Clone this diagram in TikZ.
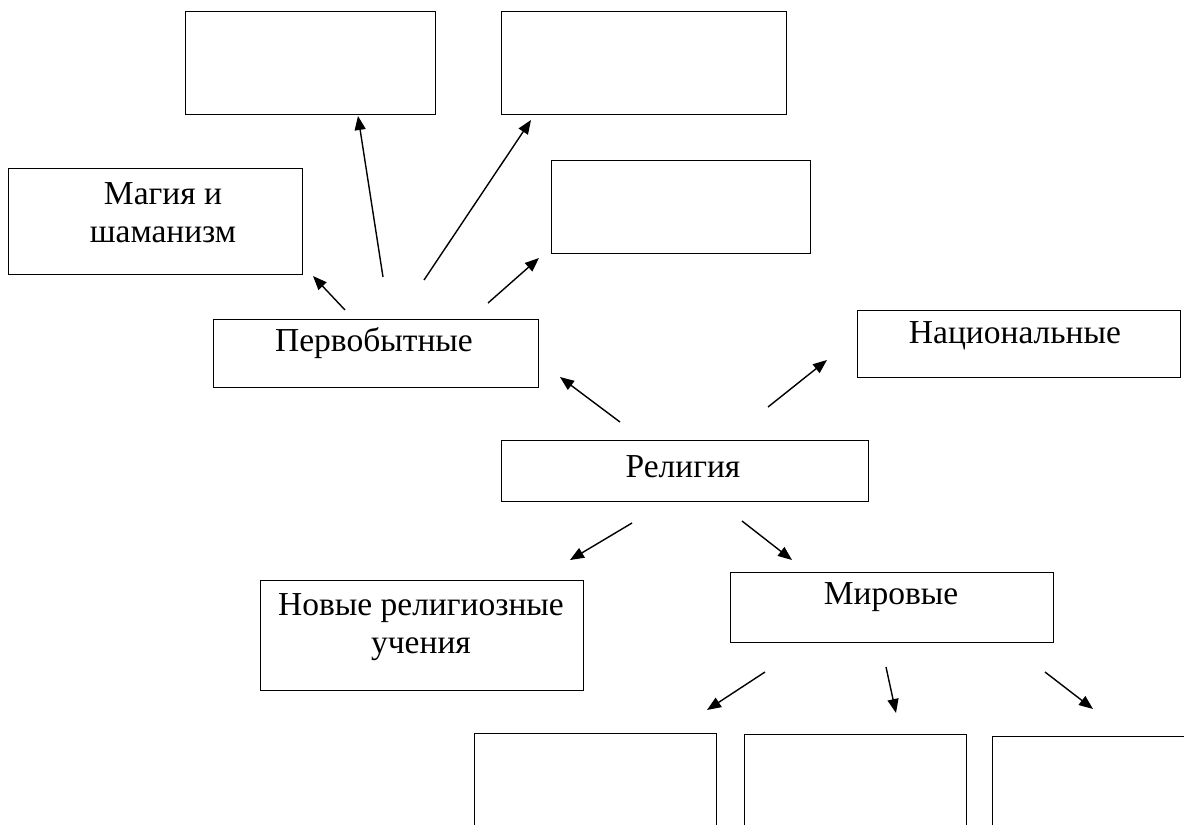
\documentclass[tikz,border=0pt]{standalone}
\usepackage{fontspec}
\setmainfont{Liberation Serif}
\usepackage{tikz}
\usetikzlibrary{arrows.meta}
\tikzset{every picture/.style={line width=1.4pt}}
\tikzset{
  box/.style={draw, inner sep=0pt, anchor=north west},
  lbl/.style={inner sep=0pt, align=center, font=\fontsize{33.5}{38}\selectfont},
  arr/.style={-{Triangle[length=14pt,width=11pt]}}
}

\begin{document}
\begin{tikzpicture}[x=1pt,y=1pt,yscale=-1,xscale=1]
	\clip (0,0) rectangle (1184,825);
	
	%Shape: Rectangle (top boxes)
	\node[box, minimum width=250, minimum height=103] (top1) at (185,11) {};
	\node[box, minimum width=285, minimum height=103] (top2) at (501,11) {};
	\node[box, minimum width=259, minimum height=93] (mid3) at (551,160) {};
	%Shape: Rectangle [magic]
	\node[box, minimum width=294, minimum height=106] (magic) at (8,168) {};
	%Shape: Rectangle [primitive]
	\node[box, minimum width=325, minimum height=68] (prim) at (213,319) {};
	%Shape: Rectangle [national]
	\node[box, minimum width=323, minimum height=67] (nat) at (857,310) {};
	%Shape: Rectangle [religion]
	\node[box, minimum width=367, minimum height=61] (rel) at (501,440) {};
	%Shape: Rectangle [new]
	\node[box, minimum width=323, minimum height=110] (new) at (260,580) {};
	%Shape: Rectangle [world]
	\node[box, minimum width=323, minimum height=70] (world) at (730,572) {};
	%Shape: Rectangle (bottom boxes)
	\node[box, minimum width=242, minimum height=120] (bot1) at (474,733) {};
	\node[box, minimum width=222, minimum height=120] (bot2) at (744,734) {};
	\node[box, minimum width=230, minimum height=120] (bot3) at (992,736) {};
	
	% Text Node
	\node[lbl] (magic-t) at (163,213) {Магия и\\шаманизм};
	% Text Node
	\node[lbl] (prim-t) at (374,343) {Первобытные};
	% Text Node
	\node[lbl] (nat-t) at (1015,336) {Национальные};
	% Text Node
	\node[lbl] (rel-t) at (683,467) {Религия};
	% Text Node
	\node[lbl] (new-t) at (421,627) {Новые религиозные\\учения};
	% Text Node
	\node[lbl] (world-t) at (891,597) {Мировые};
	
	%Straight Lines (arrow ends)
	\coordinate (p1) at (345,310);  \coordinate (q1) at (313,276);
	\coordinate (p2) at (383,277);  \coordinate (q2) at (358,116);
	\coordinate (p3) at (424,280);  \coordinate (q3) at (531,120);
	\coordinate (p4) at (488,303);  \coordinate (q4) at (539,258);
	\coordinate (r1) at (620,422);  \coordinate (s1) at (560,377);
	\coordinate (r2) at (768,407);  \coordinate (s2) at (827,360);
	\coordinate (r3) at (632,523);  \coordinate (s3) at (570,560);
	\coordinate (r4) at (742,521);  \coordinate (s4) at (792,560);
	\coordinate (w1) at (765,672);  \coordinate (v1) at (707,710);
	\coordinate (w2) at (886,667);  \coordinate (v2) at (896,713);
	\coordinate (w3) at (1045,672); \coordinate (v3) at (1093,709);
	
	\foreach \a/\b in {p1/q1,p2/q2,p3/q3,p4/q4,r1/s1,r2/s2,r3/s3,r4/s4,w1/v1,w2/v2,w3/v3}
	\draw[arr] (\a) -- (\b);
	
\end{tikzpicture}
\end{document}
